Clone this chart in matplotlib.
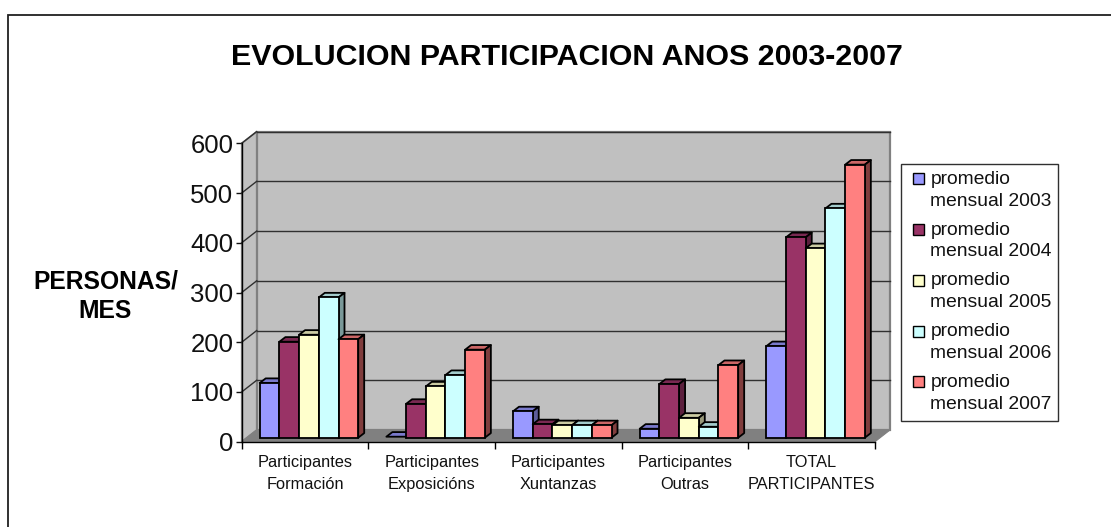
import matplotlib
matplotlib.use("Agg")
import matplotlib.pyplot as plt
from matplotlib.lines import Line2D
from matplotlib.patches import Polygon, Rectangle
from matplotlib.transforms import Affine2D

categories = ["Participantes\nFormación", "Participantes\nExposicións", "Participantes\nXuntanzas",
              "Participantes\nOutras", "TOTAL\nPARTICIPANTES"]
series_names = ["promedio\nmensual 2003", "promedio\nmensual 2004", "promedio\nmensual 2005",
                "promedio\nmensual 2006", "promedio\nmensual 2007"]
v2003 = [110, 2, 53, 18, 184]
v2004 = [193, 68, 27, 108, 403]
v2005 = [207, 103, 25, 40, 381]
v2006 = [282, 126, 25, 22, 461]
v2007 = [198, 177, 25, 146, 549]
all_values = [v2003, v2004, v2005, v2006, v2007]
front_colors = ["#9999FF", "#993366", "#FFFFCC", "#CCFFFF", "#FF8080"]
top_colors = ["#7A7ACC", "#7A2952", "#CCCCA3", "#A3CCCC", "#CC6666"]
side_colors = ["#5C5C99", "#5C1F3D", "#99997A", "#7A9999", "#803D3D"]
yticks = [0, 100, 200, 300, 400, 500, 600]
title = "EVOLUCION PARTICIPACION ANOS 2003-2007"
ylabel = "PERSONAS/\nMES"

W, H = 1111, 527
plt.rcParams["font.family"] = ["Liberation Sans", "DejaVu Sans"]
fig = plt.figure(figsize=(W / 100, H / 100), dpi=100, facecolor="white")

# frame: only the top and left edges fall inside the picture
fig.add_artist(Line2D([7.5 / W, 7.5 / W, 1], [0, 1 - 14.7 / H, 1 - 14.7 / H], transform=fig.transFigure,
                      color="#202020", lw=1.3, solid_joinstyle="miter"))

L, R, T, B = 241.7, 875.0, 143.3, 441.7
ax = fig.add_axes([L / W, 1 - B / H, (R - L) / W, (B - T) / H])
ax.set_xlim(0, 5)
ax.set_ylim(0, 600)
ax.patch.set_visible(False)
for s in ["top", "right"]:
    ax.spines[s].set_visible(False)
ax.spines["left"].set_linewidth(1.0)
ax.spines["bottom"].set_linewidth(1.0)
ax.spines["left"].set_zorder(30)
ax.spines["bottom"].set_zorder(30)

sx = (R - L) / 5
sy = (B - T) / 600
wall_dx, wall_dy = 15 / sx, 11.7 / sy

# walls
back = Rectangle((wall_dx, wall_dy), 5, 600, facecolor="#C0C0C0", edgecolor="#808080", lw=1.6,
                 clip_on=False, zorder=1)
side = Polygon([(0, 0), (wall_dx, wall_dy), (wall_dx, 600 + wall_dy), (0, 600)], closed=True,
               facecolor="#C0C0C0", edgecolor="#808080", lw=1.2, clip_on=False, zorder=1)
floor = Polygon([(0, 0), (5, 0), (5 + wall_dx, wall_dy), (wall_dx, wall_dy)], closed=True,
                facecolor="#808080", edgecolor="#808080", lw=0.8, clip_on=False, zorder=1)
ax.add_patch(back)
ax.add_patch(side)
ax.add_patch(floor)
for t in yticks[1:]:
    ax.plot([wall_dx, 5 + wall_dx], [t + wall_dy, t + wall_dy], color="#303030", lw=1.0, clip_on=False, zorder=2)
    ax.plot([0, wall_dx], [t, t + wall_dy], color="#303030", lw=1.0, clip_on=False, zorder=2)

# bars
bar_shift_x, bar_shift_y = 5.0, 4.0
bar_w = 19.7 / sx
gap_left = (18.0 - bar_shift_x) / sx
depth_x, depth_y = 6.0 / sx, 4.6 / sy
shift = ax.transData + Affine2D().translate(bar_shift_x, bar_shift_y)
z = 5
for c in range(len(categories)):
    for i, vals in enumerate(all_values):
        v = vals[c]
        x0 = c + gap_left + i * bar_w
        x1 = x0 + bar_w
        top = Polygon([(x0, v), (x1, v), (x1 + depth_x, v + depth_y), (x0 + depth_x, v + depth_y)], closed=True,
                      facecolor=top_colors[i], edgecolor="black", lw=1.3, transform=shift, clip_on=False,
                      joinstyle="round", zorder=z)
        sd = Polygon([(x1, 0), (x1 + depth_x, depth_y), (x1 + depth_x, v + depth_y), (x1, v)], closed=True,
                     facecolor=side_colors[i], edgecolor="black", lw=1.3, transform=shift, clip_on=False,
                     joinstyle="round", zorder=z)
        ax.add_patch(top)
        ax.add_patch(sd)
        if v > 3:
            ax.bar(x0, v, width=bar_w, align="edge", color=front_colors[i], edgecolor="black", linewidth=1.3,
                   transform=shift, clip_on=False, zorder=z + 1)
        z += 2

ax.set_xlim(0, 5)
ax.set_ylim(0, 600)
ax.set_yticks(yticks)
ax.set_xticks(range(6))
ax.set_xticklabels([])
ax.tick_params(axis="y", length=4, width=1, labelsize=18.5, pad=2, colors="#111111")
ax.tick_params(axis="x", length=5, width=1)
for c, lab in enumerate(categories):
    ax.text(c + 0.5, -26, lab, ha="center", va="top", fontsize=11.8, linespacing=1.62, clip_on=False,
            color="#111111")

fig.text(566.5 / W, 1 - 57 / H, title, ha="center", va="center", fontsize=21.9, fontweight="bold")
fig.text(105.5 / W, 1 - 296.5 / H, ylabel, ha="center", va="center", fontsize=17.7, fontweight="bold", linespacing=1.3)

# legend
lx0, lx1, ly0, ly1 = 901.3, 1058.3, 163.7, 420.7
fig.add_artist(Rectangle((lx0 / W, 1 - ly1 / H), (lx1 - lx0) / W, (ly1 - ly0) / H, transform=fig.transFigure,
                         facecolor="white", edgecolor="#303030", lw=1))
for i, name in enumerate(series_names):
    yc = 178.6 + i * 50.8
    fig.add_artist(Rectangle((913.4 / W, 1 - (yc + 5.5) / H), 11 / W, 11 / H, transform=fig.transFigure,
                             facecolor=front_colors[i], edgecolor="black", lw=1))
    fig.text(930.4 / W, 1 - (yc + 11.6) / H, name, ha="left", va="center", fontsize=13.9, linespacing=1.36,
             color="#111111")

fig.savefig("out.png", dpi=100)
